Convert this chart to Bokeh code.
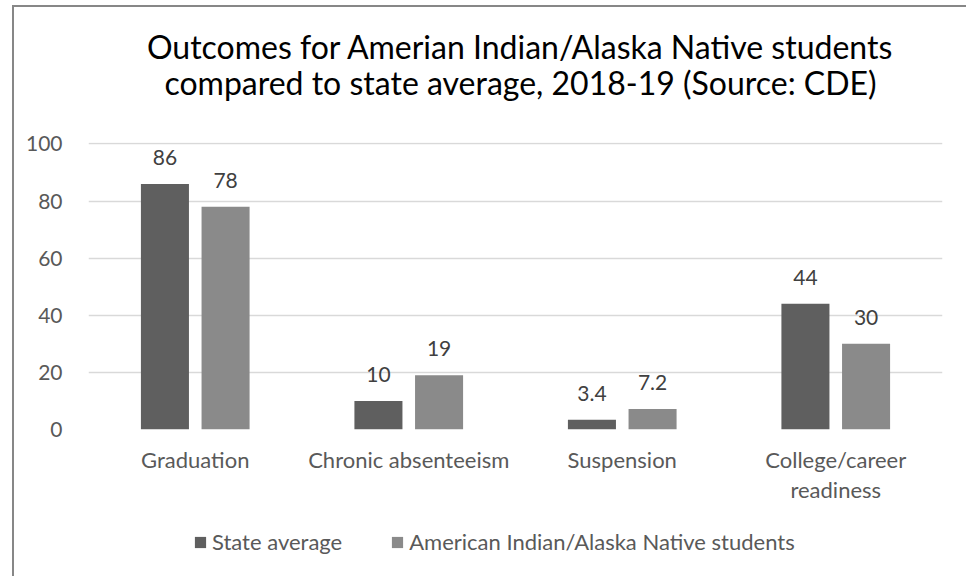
from bokeh.plotting import figure
from bokeh.layouts import column
from bokeh.models import (ColumnDataSource, FactorRange, Range1d, LabelSet, Label,
                          Legend, LegendItem, FixedTicker)
from bokeh.core.properties import value
from bokeh.transform import dodge
from bokeh.embed import file_html
from bokeh.resources import INLINE

categories = ["Graduation", "Chronic absenteeism", "Suspension", "College/career\nreadiness"]
state_average = [86, 10, 3.4, 44]
ai_an_students = [78, 19, 7.2, 30]
state_labels = ["86", "10", "3.4", "44"]
ai_labels = ["78", "19", "7.2", "30"]
y_ticks = [0, 20, 40, 60, 80, 100]
title_lines = ["Outcomes for Amerian Indian/Alaska Native students",
               "compared to state average, 2018-19 (Source: CDE)"]
series_names = ["State average", "American Indian/Alaska Native students"]

FONT = "Lato"
TXT = "#595959"
C_STATE = "#5f5f5f"
C_AI = "#8a8a8a"
W_ALL = 952
F_LEFT, F_W = 74, 854          # plot frame (aligned across the column)


def blank(height):
    f = figure(width=W_ALL, height=height, output_backend="svg", toolbar_location=None,
               title_location=None,
               x_range=Range1d(F_LEFT, F_LEFT + F_W), y_range=Range1d(height, 0),
               x_axis_location=None, y_axis_location=None,
               min_border_left=F_LEFT, min_border_right=W_ALL - F_LEFT - F_W,
               min_border_top=0, min_border_bottom=0)
    f.grid.visible = False
    f.outline_line_color = None
    f.border_fill_color = "white"
    f.background_fill_color = "white"
    return f


# ---- title strip
t = blank(110)
for txt, base in zip(title_lines, (39, 75)):
    t.add_layout(Label(x=506, y=base, text=txt, text_align="center",
                       text_baseline="alphabetic", text_font=FONT,
                       text_font_size="32px", text_color="#000000"))

# ---- main chart
src = ColumnDataSource(dict(cat=categories, state=state_average, ai=ai_an_students,
                            sl=state_labels, al=ai_labels))

p = figure(width=W_ALL, height=403, output_backend="svg", toolbar_location=None,
           x_range=FactorRange(*categories, range_padding=0), y_range=Range1d(0, 100.5),
           min_border_left=F_LEFT, min_border_right=W_ALL - F_LEFT - F_W,
           min_border_top=25, min_border_bottom=91)
p.outline_line_color = None
p.background_fill_color = "white"
p.border_fill_color = "white"

OFF = 0.142
W = 0.225
r1 = p.vbar(x=dodge("cat", -OFF, range=p.x_range), top="state", width=W, source=src,
            fill_color=C_STATE, line_color=None)
r2 = p.vbar(x=dodge("cat", OFF, range=p.x_range), top="ai", width=W, source=src,
            fill_color=C_AI, line_color=None)

for col, top, off in (("sl", "state", -OFF), ("al", "ai", OFF)):
    ls = LabelSet(x=dodge("cat", off, range=p.x_range), y=top, text=col, source=src,
                  text_align="center", text_baseline="alphabetic", y_offset=19,
                  text_font=value(FONT), text_font_size=value("21px"),
                  text_color=value("#404040"))
    p.add_layout(ls)

p.yaxis.ticker = FixedTicker(ticks=y_ticks)
p.yaxis.axis_line_color = None
p.yaxis.major_tick_line_color = None
p.yaxis.minor_tick_line_color = None
p.yaxis.major_label_standoff = 20
p.yaxis.major_label_text_font = FONT
p.yaxis.major_label_text_font_size = "21px"
p.yaxis.major_label_text_color = TXT

p.xaxis.axis_line_color = None
p.xaxis.major_tick_line_color = None
p.xaxis.major_label_standoff = 10
p.xaxis.major_label_text_font = FONT
p.xaxis.major_label_text_font_size = "22px"
p.xaxis.major_label_text_line_height = 1.12
p.xaxis.major_label_text_color = TXT

p.xgrid.grid_line_color = None
p.ygrid.grid_line_color = "#d9d9d9"
p.ygrid.grid_line_width = 1.5
p.ygrid.ticker = FixedTicker(ticks=y_ticks)

# ---- legend strip
lg = blank(56)
proxy = ColumnDataSource(dict(x=[-50], top=[-50]))
l1 = lg.vbar(x="x", top="top", width=1, source=proxy, fill_color=C_STATE, line_color=None)
l2 = lg.vbar(x="x", top="top", width=1, source=proxy, fill_color=C_AI, line_color=None)
legend = Legend(items=[LegendItem(label=series_names[0], renderers=[l1]),
                       LegendItem(label=series_names[1], renderers=[l2])],
                orientation="horizontal", location=(105, 21),
                glyph_width=14, glyph_height=14, label_standoff=5, spacing=48,
                padding=0, margin=0, border_line_color=None, background_fill_alpha=0,
                label_text_font=FONT, label_text_font_size="22px", label_text_color=TXT)
lg.add_layout(legend)

layout = column(t, p, lg, spacing=0,
                styles={"border-left": "2px solid #878787", "border-top": "2px solid #878787",
                        "margin-left": "12px", "margin-top": "5px"})

open("out.html", "w").write(file_html(layout, INLINE))
